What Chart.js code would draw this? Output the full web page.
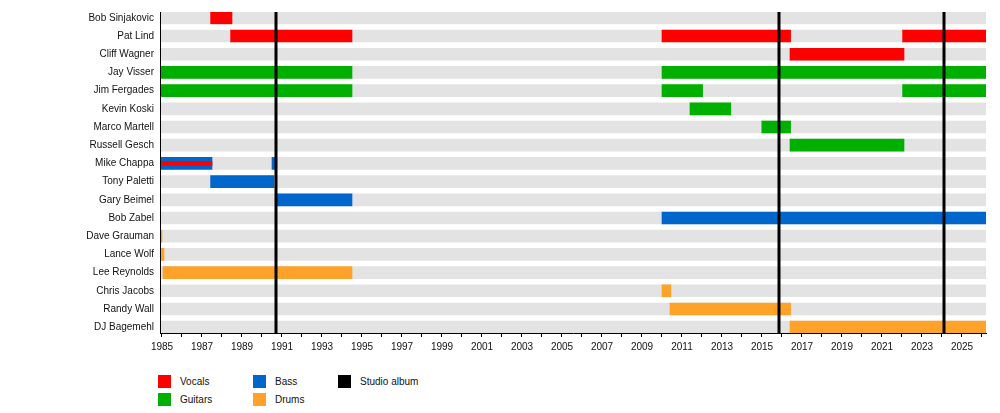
<!DOCTYPE html>
<html>
<head>
<meta charset="utf-8">
<script src="https://cdn.jsdelivr.net/npm/chart.js@4/dist/chart.umd.min.js"></script>
<style>
  html, body { margin: 0; padding: 0; background: #fff; }
  #wrap { position: relative; width: 1000px; height: 413px; }
  #chart { position: absolute; left: 0; top: 0; }
  .lg { position: absolute; font: 10px "Liberation Sans", Arial, sans-serif; color: #111; }
  .sw { position: absolute; width: 13px; height: 13px; }
</style>
</head>
<body>
<div id="wrap">
  <canvas id="chart" width="1000" height="360"></canvas>
  <div id="legend"></div>
</div>
<script>
// membros, de cima para baixo
var members = ['Bob Sinjakovic', 'Pat Lind', 'Cliff Wagner', 'Jay Visser', 'Jim Fergades',
  'Kevin Koski', 'Marco Martell', 'Russell Gesch', 'Mike Chappa', 'Tony Paletti',
  'Gary Beimel', 'Bob Zabel', 'Dave Grauman', 'Lance Wolf', 'Lee Reynolds',
  'Chris Jacobs', 'Randy Wall', 'DJ Bagemehl'];

var startYear = 1984.9;
var endYear = 2026.2;

// [membro, inicio, fim]
var vocals = [
  ['Bob Sinjakovic', 1987.43, 1988.5],
  ['Pat Lind', 1988.43, 1994.5],
  ['Pat Lind', 2010.0, 2016.43],
  ['Pat Lind', 2022.03, 2026.2],
  ['Cliff Wagner', 2016.4, 2022.1]
];
var vocalsStripe = [
  ['Mike Chappa', 1984.9, 1987.5]
];
var guitars = [
  ['Jay Visser', 1984.9, 1994.5],
  ['Jay Visser', 2010.0, 2026.2],
  ['Jim Fergades', 1984.9, 1994.5],
  ['Jim Fergades', 2010.0, 2012.03],
  ['Jim Fergades', 2022.03, 2026.2],
  ['Kevin Koski', 2011.4, 2013.44],
  ['Marco Martell', 2014.99, 2016.43],
  ['Russell Gesch', 2016.4, 2022.1]
];
var bass = [
  ['Mike Chappa', 1984.9, 1987.5],
  ['Mike Chappa', 1990.5, 1990.72],
  ['Tony Paletti', 1987.43, 1990.6],
  ['Gary Beimel', 1990.68, 1994.5],
  ['Bob Zabel', 2010.0, 2026.2]
];
var drums = [
  ['Dave Grauman', 1984.9, 1985.0],
  ['Lance Wolf', 1984.92, 1985.1],
  ['Lee Reynolds', 1985.05, 1994.5],
  ['Chris Jacobs', 2010.0, 2010.44],
  ['Randy Wall', 2010.4, 2016.43],
  ['DJ Bagemehl', 2016.4, 2026.2]
];
var studioAlbums = [1990.7, 2015.85, 2024.1];

var colors = {
  Vocals: '#ff0000',
  Guitars: '#00b000',
  Bass: '#0066cc',
  Drums: '#ffa229',
  'Studio album': '#000000'
};

var toPoints = function(list) {
  return list.map(function(r) {
    return { x: [r[1], r[2]], y: members.indexOf(r[0]) };
  });
};

var background = members.map(function(m, i) {
  return { x: [startYear, endYear], y: i };
});

// linhas dos albuns
var albumLines = {
  id: 'albumLines',
  afterDatasetsDraw: function(chart) {
    var ctx = chart.ctx;
    var xs = chart.scales.x;
    var area = chart.chartArea;
    ctx.save();
    ctx.strokeStyle = colors['Studio album'];
    ctx.lineWidth = 3;
    studioAlbums.forEach(function(year) {
      var px = xs.getPixelForValue(year);
      ctx.beginPath();
      ctx.moveTo(px, area.top);
      ctx.lineTo(px, area.bottom);
      ctx.stroke();
    });
    ctx.restore();
  }
};

var font = { family: '"Liberation Sans", Arial, sans-serif', size: 10 };

new Chart(document.getElementById('chart').getContext('2d'), {
  type: 'bar',
  data: {
    datasets: [
      { label: 'bg', data: background, backgroundColor: '#e3e3e3', barThickness: 12, grouped: false, order: 5 },
      { label: 'Vocals', data: toPoints(vocals), backgroundColor: colors.Vocals, barThickness: 12, grouped: false, order: 3 },
      { label: 'Guitars', data: toPoints(guitars), backgroundColor: colors.Guitars, barThickness: 12, grouped: false, order: 3 },
      { label: 'Bass', data: toPoints(bass), backgroundColor: colors.Bass, barThickness: 12, grouped: false, order: 3 },
      { label: 'Drums', data: toPoints(drums), backgroundColor: colors.Drums, barThickness: 12, grouped: false, order: 3 },
      { label: 'Vocals2', data: toPoints(vocalsStripe), backgroundColor: colors.Vocals, barThickness: 4, grouped: false, order: 1 }
    ]
  },
  options: {
    indexAxis: 'y',
    responsive: false,
    animation: false,
    layout: { padding: { left: 0, right: 14, top: 11, bottom: 0 } },
    plugins: { legend: { display: false }, tooltip: { enabled: false } },
    scales: {
      x: {
        type: 'linear',
        min: startYear,
        max: endYear,
        afterFit: function(s) { s.height = 27; },
        grid: { display: true, drawOnChartArea: false, drawTicks: true, tickLength: 4, tickColor: '#000' },
        border: { display: true, color: '#000', width: 1, z: 1 },
        ticks: {
          stepSize: 1,
          includeBounds: false,
          autoSkip: false,
          maxRotation: 0,
          padding: 4,
          color: '#111',
          font: font,
          callback: function(v) {
            var y = Math.round(v);
            return y % 2 === 1 ? String(y) : '';
          }
        }
      },
      y: {
        type: 'linear',
        reverse: true,
        offset: false,
        min: -0.32,
        max: members.length - 1 + 0.32,
        afterFit: function(s) { s.width = 160; },
        grid: { display: false, drawOnChartArea: false, drawTicks: false },
        border: { display: true, color: '#000', width: 1, z: 1 },
        ticks: {
          stepSize: 1,
          includeBounds: false,
          autoSkip: false,
          padding: 6,
          color: '#111',
          font: font,
          callback: function(v) {
            return members[Math.round(v)] || '';
          }
        }
      }
    }
  },
  plugins: [albumLines]
});

// legenda
var legendItems = [
  ['Vocals', 158, 375], ['Guitars', 158, 393],
  ['Bass', 253, 375], ['Drums', 253, 393],
  ['Studio album', 338, 375]
];
var legend = document.getElementById('legend');
legendItems.forEach(function(it) {
  var sw = document.createElement('div');
  sw.className = 'sw';
  sw.style.left = it[1] + 'px';
  sw.style.top = it[2] + 'px';
  sw.style.background = colors[it[0]];
  legend.appendChild(sw);
  var t = document.createElement('div');
  t.className = 'lg';
  t.style.left = (it[1] + 22) + 'px';
  t.style.top = (it[2] + 1) + 'px';
  t.textContent = it[0];
  legend.appendChild(t);
});
</script>
</body>
</html>
